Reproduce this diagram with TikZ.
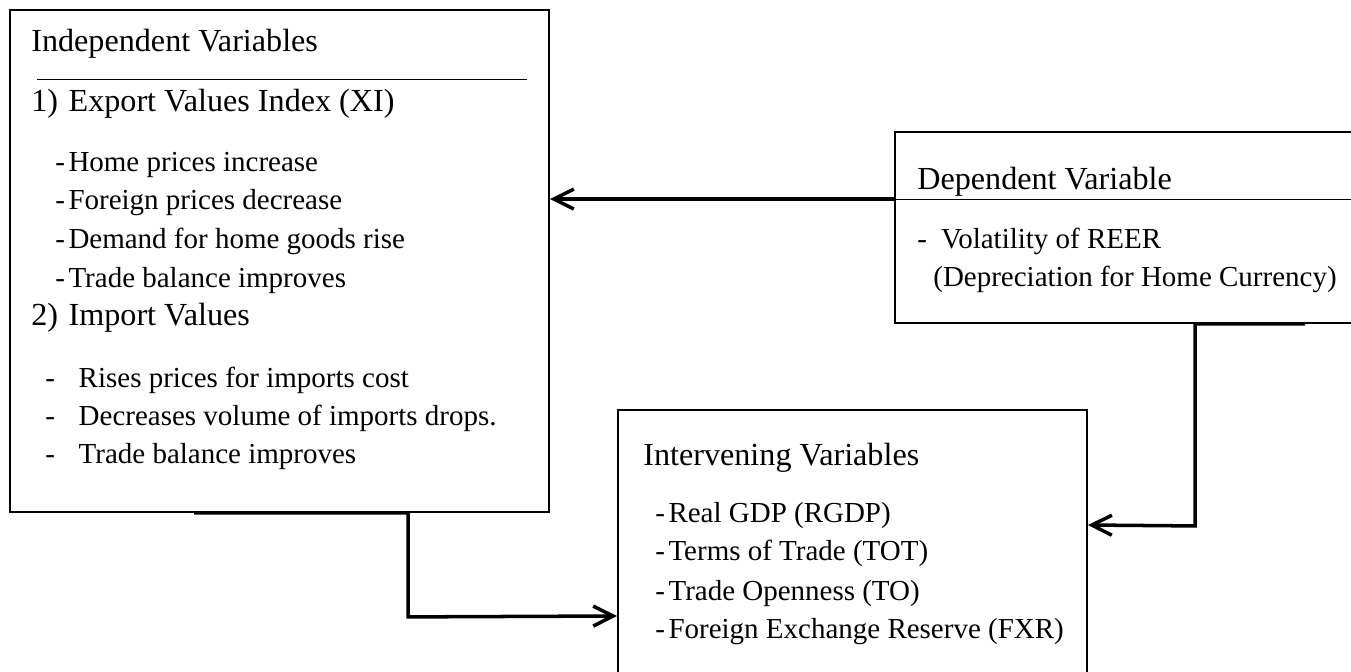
\documentclass[tikz,border=0pt]{standalone}
\usepackage{fontspec}
\setmainfont{Liberation Serif}
\usetikzlibrary{arrows.meta}
\tikzstyle{varbox}=[draw, line width=1.1pt, inner sep=0pt]
\tikzstyle{titulo}=[anchor=base west, inner sep=0pt,
  font=\fontsize{18.3}{21}\selectfont]
\tikzstyle{texto}=[anchor=base west, inner sep=0pt,
  font=\fontsize{16.5}{19}\selectfont]
\tikzstyle{divider}=[draw, line width=0.6pt]
\tikzstyle{line}=[draw, line width=2pt,
  -{Straight Barb[length=0.4cm, width=0.4cm]}]
\begin{document}
\begin{tikzpicture}[x=0.02cm, y=-0.02cm]
\useasboundingbox (0,0) rectangle (1351,672);

  % Draw the three boxes
\node (b1) [varbox, minimum width=10.78cm, minimum height=10.04cm] at (279.5,261) {};
\node (b2) [varbox, minimum width=9.4cm, minimum height=3.82cm] at (1130,227.5) {};
\node (b3) [varbox, minimum width=9.38cm, minimum height=5.8cm] at (852.5,555) {};

  % Independent variables
\node (t1) [titulo] at (31,52) {Independent Variables};
\path [divider] (b1.north west) +(28,70) -- +(518,70);
\node (t2) [titulo] at (31,112) {1)\hspace{6pt}Export Values Index (XI)};
\node (t3) [texto] at (55,172) {-\kern2pt Home prices increase};
\node (t4) [texto] at (55,210) {-\kern2pt Foreign prices decrease};
\node (t5) [texto] at (55,248) {-\kern2pt Demand for home goods rise};
\node (t6) [texto] at (55,287) {-\kern2pt Trade balance improves};
\node (t7) [titulo] at (31,325) {2)\hspace{6pt}Import Values};
\node (t8) [texto] at (45,387) {-\hspace{13.5pt}Rises prices for imports cost};
\node (t9) [texto] at (45,425) {-\hspace{13.5pt}Decreases volume of imports drops.};
\node (t10) [texto] at (45,463) {-\hspace{13.5pt}Trade balance improves};

  % Dependent variable
\node (t11) [titulo] at (917,190) {Dependent Variable};
\path (b2.north west) +(0,68) coordinate (d2);
\path [divider] (d2) -- (d2 -| b2.east);
\node (t12) [texto] at (917,248) {-\hspace{8pt}Volatility of REER};
\node (t13) [texto] at (933,286) {(Depreciation for Home Currency)};

  % Intervening variables
\node (t14) [titulo] at (643,465) {Intervening Variables};
\node (t15) [texto] at (655,522) {-\kern2pt Real GDP (RGDP)};
\node (t16) [texto] at (655,560) {-\kern2pt Terms of Trade (TOT)};
\node (t17) [texto] at (655,600) {-\kern2pt Trade Openness (TO)};
\node (t18) [texto] at (655,638) {-\kern2pt Foreign Exchange Reserve (FXR)};

  % Draw arrows between boxes
\path [line] (d2) -- (d2 -| b1.east);
\path [line] (b1.south) +(-85.5,0) -- +(128.5,0) -- +(128.5,104)
  -- ([yshift=-1.22cm]b3.west);
\path [line] (b2.south) +(175,0) -- +(65,0) -- +(65,202)
  -- ([yshift=0.6cm]b3.east);
\end{tikzpicture}
\end{document}
